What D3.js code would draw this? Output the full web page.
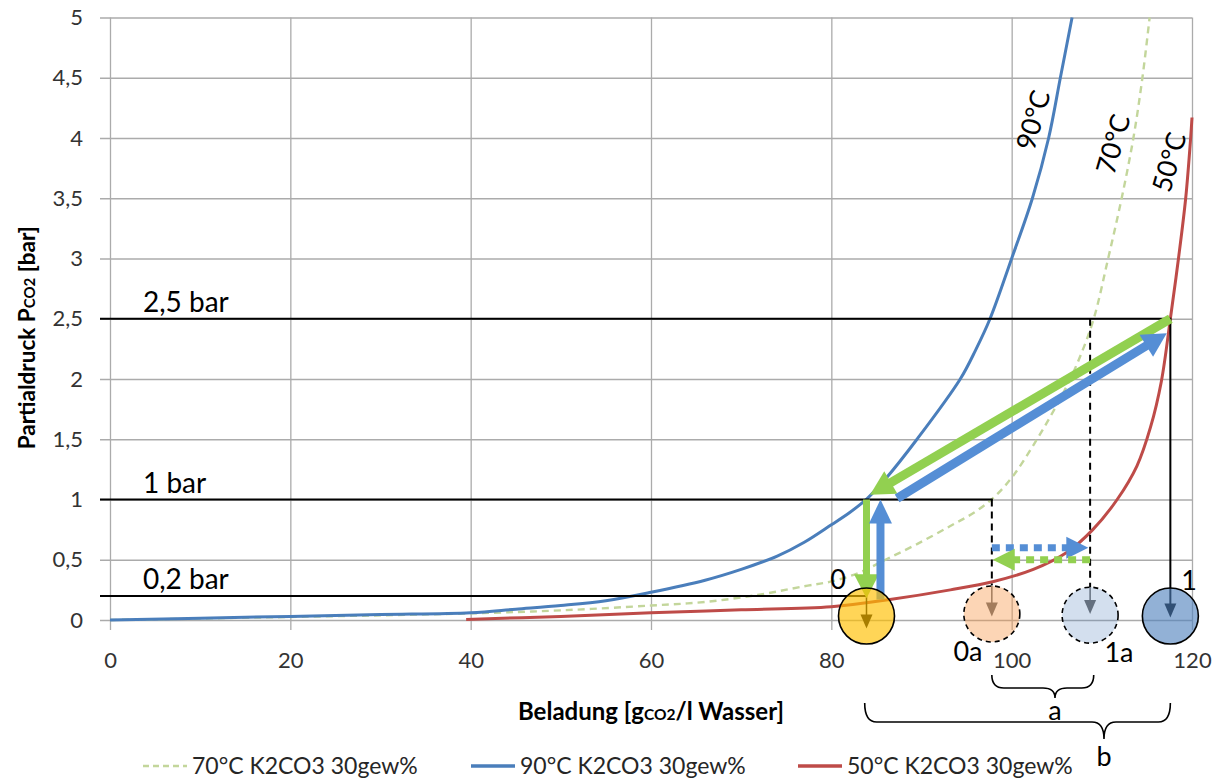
<!DOCTYPE html>
<html>
<head>
<meta charset="utf-8">
<script src="https://cdn.jsdelivr.net/npm/d3@7"></script>
<style>
  html, body { margin: 0; padding: 0; background: #fff; }
  svg { display: block; font-family: Lato, "Open Sans", sans-serif; }
</style>
</head>
<body>
<svg id="chart" width="1223" height="782"></svg>
<script>
// Axis ticks
const xTicks = [0, 20, 40, 60, 80, 100, 120];
const yTicks = [0, 0.5, 1, 1.5, 2, 2.5, 3, 3.5, 4, 4.5, 5];

// Equilibrium curves: [loading g/l, partial pressure bar]
const curve70 = [
  [0, 0], [20, 0.025], [40, 0.055], [50, 0.08], [60, 0.12], [66, 0.15], [72, 0.21],
  [77, 0.28], [80, 0.32], [83, 0.39], [86, 0.5], [89.5, 0.63], [93.2, 0.78], [96, 0.9],
  [98.2, 1.03], [100.2, 1.2], [102.4, 1.45], [104.3, 1.69], [105.9, 1.91], [107.5, 2.17],
  [109.1, 2.5], [110.7, 3.0], [112.2, 3.5], [113.5, 4.0], [114.5, 4.5], [115.3, 5.0]
];
const curve90 = [
  [0, 0], [10, 0.015], [20, 0.03], [30, 0.045], [40, 0.06], [45, 0.09], [50, 0.12],
  [55, 0.16], [60, 0.23], [66, 0.33], [70, 0.42], [74, 0.53], [77, 0.645], [80, 0.79],
  [82, 0.89], [84, 1.01], [86, 1.17], [89.5, 1.5], [94.3, 2.0], [96, 2.24], [97.6, 2.5],
  [100, 3.0], [102.3, 3.5], [104.1, 4.0], [105.4, 4.5], [106.7, 5.0]
];
const curve50 = [
  [39.5, 0.005], [50, 0.03], [60, 0.06], [70, 0.085], [80, 0.11], [86.5, 0.17],
  [93.2, 0.25], [98, 0.32], [102.4, 0.42], [106.1, 0.56], [109, 0.75], [111.7, 1.0],
  [113.9, 1.28], [115.4, 1.6], [116.6, 1.98], [117.6, 2.5], [118.5, 3.0],
  [119.3, 3.5], [119.85, 4.0], [120, 4.17]
];

const seriesNames = ["70°C K2CO3 30gew%", "90°C K2CO3 30gew%", "50°C K2CO3 30gew%"];
const curveLabels = ["70°C", "90°C", "50°C"];

// Pressure levels of the process
const pressureLevels = [2.5, 1, 0.2];
const pressureLabels = ["2,5 bar", "1 bar", "0,2 bar"];

// Loadings of the process states
const stateNames = ["0", "0a", "1a", "1"];
const stateLoad = [83.9, 97.8, 108.7, 117.6];

const svg = d3.select("#chart");

const x = d3.scaleLinear().domain([0, 120]).range([110, 1192]);
const y = d3.scaleLinear().domain([0, 5]).range([620, 17.5]);

const de = d3.formatLocale({ decimal: ",", thousands: ".", grouping: [3], currency: ["", " €"] });
const fmt = de.format("~f");

const gridColor = "#ababab";
const tickText = "#333";

// ---- axes with gridlines ----
const yAxis = d3.axisLeft(y).tickValues(yTicks).tickFormat(fmt)
  .tickSize(-(x(120) - 100)).tickPadding(17);
const gy = svg.append("g").attr("transform", "translate(100,0)").call(yAxis);
gy.select(".domain").remove();
gy.selectAll(".tick line").attr("stroke", gridColor).attr("stroke-width", 1.3);
gy.selectAll(".tick text").attr("font-size", 22).attr("fill", tickText)
  .attr("font-family", "Lato, sans-serif");

const xAxis = d3.axisBottom(x).tickValues(xTicks).tickFormat(fmt)
  .tickSize(-(630 - y(5))).tickPadding(22);
const gx = svg.append("g").attr("transform", "translate(0,630)").call(xAxis);
gx.select(".domain").remove();
gx.selectAll(".tick line").attr("stroke", gridColor).attr("stroke-width", 1.3);
gx.selectAll(".tick text").attr("font-size", 22).attr("fill", tickText)
  .attr("font-family", "Lato, sans-serif");

// ---- axis titles ----
const yt = svg.append("text")
  .attr("transform", `translate(35,${(y(0) + y(5)) / 2 + 19}) rotate(-90)`)
  .attr("text-anchor", "middle").attr("font-weight", 700).attr("font-size", 22.5).attr("fill", "#000");
yt.append("tspan").text("Partialdruck P");
yt.append("tspan").attr("font-size", 15).text("CO2");
yt.append("tspan").text(" [bar]");

const xt = svg.append("text")
  .attr("x", 651).attr("y", 720)
  .attr("text-anchor", "middle").attr("font-weight", 700).attr("font-size", 24).attr("fill", "#000");
xt.append("tspan").text("Beladung [g");
xt.append("tspan").attr("font-size", 15.5).text("CO2");
xt.append("tspan").text("/l Wasser]");

// ---- equilibrium curves ----
const line = d3.line().x(d => x(d[0])).y(d => y(d[1])).curve(d3.curveCatmullRom.alpha(0.5));
const plot = svg.append("g");
plot.append("path").datum(curve70).attr("d", line).attr("fill", "none")
  .attr("stroke", "#c3d69b").attr("stroke-width", 2.4).attr("stroke-dasharray", "7,5");
plot.append("path").datum(curve50).attr("d", line).attr("fill", "none")
  .attr("stroke", "#be4b48").attr("stroke-width", 3);
plot.append("path").datum(curve90).attr("d", line).attr("fill", "none")
  .attr("stroke", "#4a7ebb").attr("stroke-width", 3);

// ---- arrow helper ----
function arrow(g, x1, y1, x2, y2, o) {
  const dx = x2 - x1, dy = y2 - y1, L = Math.hypot(dx, dy);
  const ux = dx / L, uy = dy / L, nx = -uy, ny = ux;
  const hl = o.headLen || 0, hw = o.headW || 0;
  const bx = x2 - ux * hl, by = y2 - uy * hl;
  const ln = g.append("line")
    .attr("x1", x1).attr("y1", y1)
    .attr("x2", hl ? bx + ux * 1 : x2).attr("y2", hl ? by + uy * 1 : y2)
    .attr("stroke", o.color).attr("stroke-width", o.width);
  if (o.dash) ln.attr("stroke-dasharray", o.dash);
  if (hl) {
    g.append("path")
      .attr("d", `M${x2},${y2}L${bx + nx * hw / 2},${by + ny * hw / 2}L${bx - nx * hw / 2},${by - ny * hw / 2}Z`)
      .attr("fill", o.headColor || o.color);
  }
}

const ann = svg.append("g");
const xLeft = 100;

// ---- pressure level lines with drops to the states ----
// 2,5 bar -> state 1
ann.append("line").attr("x1", xLeft).attr("x2", x(stateLoad[3])).attr("y1", y(pressureLevels[0])).attr("y2", y(pressureLevels[0]))
  .attr("stroke", "#000").attr("stroke-width", 2);
arrow(ann, x(stateLoad[3]), y(pressureLevels[0]) - 1, x(stateLoad[3]), y(0.02), { color: "#000", width: 2, headLen: 14, headW: 12 });
// 1 bar -> state 0a
ann.append("line").attr("x1", xLeft).attr("x2", x(stateLoad[1]) + 1).attr("y1", y(pressureLevels[1])).attr("y2", y(pressureLevels[1]))
  .attr("stroke", "#000").attr("stroke-width", 2);
ann.append("line").attr("x1", x(stateLoad[1])).attr("x2", x(stateLoad[1]))
  .attr("y1", y(pressureLevels[1])).attr("y2", y(0.29))
  .attr("stroke", "#000").attr("stroke-width", 2).attr("stroke-dasharray", "7,5");
arrow(ann, x(stateLoad[1]), y(0.29), x(stateLoad[1]), y(0.03), { color: "#6b6b6b", width: 1.5, headLen: 14, headW: 12 });
// 2,5 bar on 70°C -> state 1a
ann.append("line").attr("x1", x(stateLoad[2])).attr("x2", x(stateLoad[2]))
  .attr("y1", y(pressureLevels[0])).attr("y2", y(0.27))
  .attr("stroke", "#000").attr("stroke-width", 2).attr("stroke-dasharray", "7,5");
arrow(ann, x(stateLoad[2]), y(0.27), x(stateLoad[2]), y(0.05), { color: "#6b6b6b", width: 1.5, headLen: 14, headW: 12 });
// 0,2 bar -> state 0
ann.append("line").attr("x1", xLeft).attr("x2", x(stateLoad[0])).attr("y1", y(pressureLevels[2])).attr("y2", y(pressureLevels[2]))
  .attr("stroke", "#000").attr("stroke-width", 2);
arrow(ann, x(stateLoad[0]), y(pressureLevels[2]), x(stateLoad[0]), y(-0.07), { color: "#000", width: 1.5, headLen: 14, headW: 12 });

// pressure labels
pressureLevels.forEach((p, i) => {
  ann.append("text").attr("x", 143).attr("y", y(p) - 7)
    .attr("font-size", 28).attr("fill", "#000").text(pressureLabels[i]);
});

// ---- process arrows ----
const green = "#92d050", blue = "#558ed5";
// desorption 2,5 bar -> 1 bar (green), absorption 1 bar -> 2,5 bar (blue)
arrow(ann, x(117.6), y(2.5), x(84.3), y(1.04), { color: green, width: 9, headLen: 24, headW: 26 });
arrow(ann, x(87.3), y(1.01), x(117.2), y(2.38), { color: blue, width: 9, headLen: 24, headW: 26 });
// vertical arrows between state 0 and the 1 bar level
arrow(ann, x(83.9), y(1.0), x(83.9), y(0.18), { color: green, width: 7, headLen: 24, headW: 25 });
arrow(ann, x(85.45), y(0.17), x(85.45), y(1.0), { color: blue, width: 8, headLen: 24, headW: 23 });
// dotted loading shift between 0a and 1a
arrow(ann, x(97.8), y(0.6), x(108.5), y(0.6), { color: blue, width: 7, headLen: 22, headW: 22, dash: "8,6" });
arrow(ann, x(108.7), y(0.5), x(97.9), y(0.5), { color: green, width: 7, headLen: 22, headW: 22, dash: "8,6" });

// ---- state circles ----
const circleFill = ["#ffc000", "#f79646", "#4f81bd", "#4f81bd"];
const circleAlpha = [0.66, 0.4, 0.25, 0.62];
const circleDashed = [false, true, true, false];
const circleY = [0.033, 0.05, 0.04, 0.033];
stateLoad.forEach((v, i) => {
  ann.append("circle").attr("cx", x(v)).attr("cy", y(circleY[i])).attr("r", 28)
    .attr("fill", circleFill[i]).attr("fill-opacity", circleAlpha[i])
    .attr("stroke", "#000").attr("stroke-width", 1.6)
    .attr("stroke-dasharray", circleDashed[i] ? "5,4" : null);
});

// state labels
const stateLabelPos = [[838, 589], [968, 661], [1119, 662], [1189, 590]];
stateNames.forEach((s, i) => {
  ann.append("text").attr("x", stateLabelPos[i][0]).attr("y", stateLabelPos[i][1])
    .attr("text-anchor", "middle").attr("font-size", 27).attr("fill", "#000").text(s);
});

// ---- braces a and b ----
function brace(xa, xb, xt, yTop, yMid, yTip) {
  const r = Math.min(12, (yMid - yTop));
  return `M${xa},${yTop} Q${xa},${yMid} ${xa + r},${yMid} L${xt - r},${yMid} Q${xt},${yMid} ${xt},${yTip}` +
    ` Q${xt},${yMid} ${xt + r},${yMid} L${xb - r},${yMid} Q${xb},${yMid} ${xb},${yTop}`;
}
ann.append("path").attr("d", brace(x(stateLoad[1]), x(109.1), 1055, 675, 688, 698))
  .attr("fill", "none").attr("stroke", "#000").attr("stroke-width", 1.6);
ann.append("path").attr("d", brace(x(83.7), x(stateLoad[3]), 1104, 703, 722, 739))
  .attr("fill", "none").attr("stroke", "#000").attr("stroke-width", 1.6);
ann.append("text").attr("x", 1055).attr("y", 720).attr("text-anchor", "middle").attr("font-size", 27).text("a");
ann.append("text").attr("x", 1104).attr("y", 766).attr("text-anchor", "middle").attr("font-size", 27).text("b");

// ---- curve labels ----
const curveLabelPos = [[1113, 144], [1033, 120], [1169, 162]];
curveLabels.forEach((t, i) => {
  ann.append("text")
    .attr("transform", `translate(${curveLabelPos[i][0]},${curveLabelPos[i][1]}) rotate(-74)`)
    .attr("text-anchor", "middle").attr("dy", "0.36em")
    .attr("font-size", 27).attr("fill", "#000").text(t);
});

// ---- legend ----
const legend = svg.append("g");
const legendX = [143, 471, 798];
const legendStroke = ["#c3d69b", "#4a7ebb", "#be4b48"];
seriesNames.forEach((n, i) => {
  legend.append("line").attr("x1", legendX[i]).attr("x2", legendX[i] + 44)
    .attr("y1", 766).attr("y2", 766).attr("stroke", legendStroke[i])
    .attr("stroke-width", i === 0 ? 2.4 : 3.5)
    .attr("stroke-dasharray", i === 0 ? "6,4" : null);
  legend.append("text").attr("x", legendX[i] + 49).attr("y", 774)
    .attr("font-size", 23).attr("fill", "#262626").text(n);
});
</script>
</body>
</html>
